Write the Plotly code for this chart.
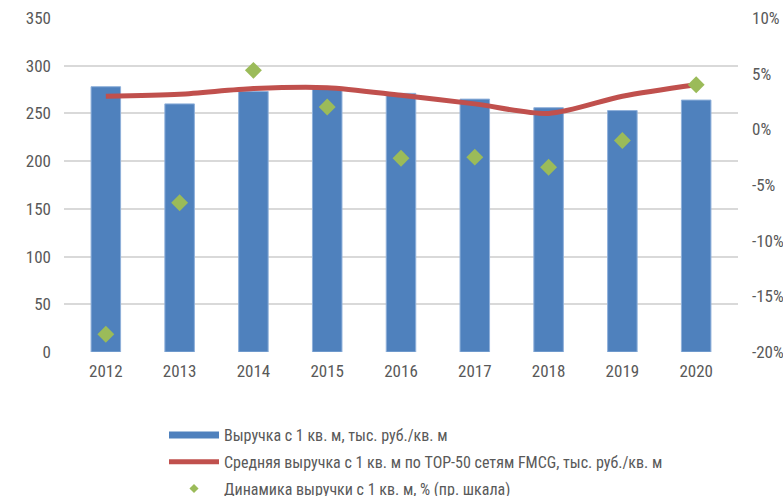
import plotly.graph_objects as go

years = ["2012", "2013", "2014", "2015", "2016", "2017", "2018", "2019", "2020"]
revenue = [278, 260, 273, 276, 271, 265, 256, 253, 264]
top50_avg = [268, 270, 276, 277, 269, 260, 250, 268, 280]
growth_pct = [-18.4, -6.6, 5.3, 2.0, -2.6, -2.5, -3.4, -1.0, 4.0]

left_ticks = [0, 50, 100, 150, 200, 250, 300, 350]
right_ticks = [-20, -15, -10, -5, 0, 5, 10]
right_tick_text = ["-20%", "-15%", "-10%", "-5%", "0%", "5%", "10%"]

name_bar = "Выручка с 1 кв. м, тыс. руб./кв. м"
name_line = "Средняя выручка с 1 кв. м по TOP-50 сетям FMCG, тыс. руб./кв. м"
name_dots = "Динамика выручки с 1 кв. м, % (пр. шкала)"

BLUE = "#4F81BD"
BLUE_EDGE = "#8FB0DA"
RED = "#C0504D"
GREEN = "#9BBB59"
FONT = "Liberation Sans Narrow, Roboto Condensed, Roboto, sans-serif"
GREY = "#595959"

fig = go.Figure()

fig.add_trace(go.Bar(
    x=years, y=revenue, name=name_bar,
    marker=dict(color=BLUE, line=dict(width=1, color=BLUE_EDGE)),
    showlegend=False,
))
fig.add_trace(go.Scatter(
    x=years, y=top50_avg, name=name_line, mode="lines",
    line=dict(color=RED, width=5, shape="spline", smoothing=0.8),
    showlegend=False,
))
fig.add_trace(go.Scatter(
    x=years, y=growth_pct, name=name_dots, mode="markers", yaxis="y2",
    marker=dict(symbol="diamond", size=13, color=GREEN),
    showlegend=False,
))

# legend swatches
fig.add_trace(go.Scatter(x=[None], y=[None], name=name_bar, mode="lines",
                         line=dict(color=BLUE, width=7), legendgroup="a"))
fig.add_trace(go.Scatter(x=[None], y=[None], name=name_line, mode="lines",
                         line=dict(color=RED, width=5), legendgroup="b"))
fig.add_trace(go.Scatter(x=[None], y=[None], name=name_dots, mode="markers",
                         marker=dict(symbol="diamond", size=7, color=GREEN),
                         legendgroup="c"))

fig.update_layout(
    width=783, height=496,
    margin=dict(l=64, r=45, t=18, b=144, autoexpand=False),
    plot_bgcolor="white", paper_bgcolor="white",
    font=dict(family=FONT, size=16, color=GREY),
    bargap=0.6,
    xaxis=dict(showgrid=False, showline=False, ticks="", ticklabelstandoff=7,
               tickfont=dict(size=17, color=GREY)),
    yaxis=dict(range=[0, 350], tickvals=left_ticks, showgrid=True, gridcolor="#D9D9D9",
               gridwidth=2, zeroline=False, showline=False, ticks="", ticklabelstandoff=12,
               tickfont=dict(size=17, color=GREY)),
    yaxis2=dict(range=[-20, 10], tickvals=right_ticks, ticktext=right_tick_text,
                overlaying="y", side="right", showgrid=False, zeroline=False,
                showline=False, ticks="", ticklabelstandoff=13,
                tickfont=dict(size=17, color=GREY)),
    legend=dict(x=164 / 783, y=1 - 418 / 496, xref="container", yref="container",
                xanchor="left", yanchor="top", orientation="v",
                itemwidth=50, tracegroupgap=3, font=dict(size=16, color=GREY),
                bgcolor="rgba(0,0,0,0)"),
    showlegend=True,
)

fig.write_html("out.html")
